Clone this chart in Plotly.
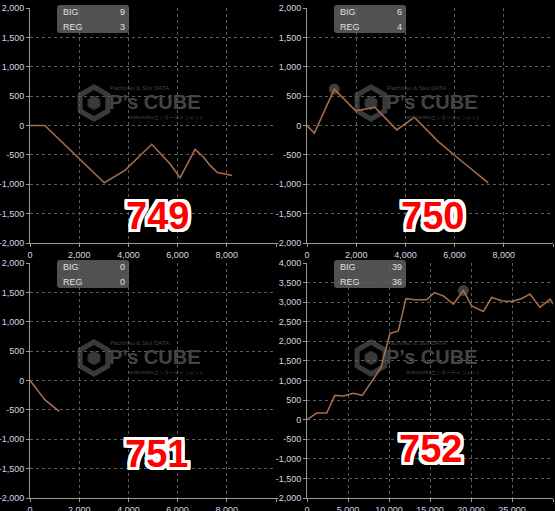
import math
import plotly.graph_objects as go

W, H = 555, 511

# ---------------- data ----------------
names = ["749", "750", "751", "752"]
big_counts = [9, 6, 0, 39]
reg_counts = [3, 4, 0, 36]

x749 = [0, 600, 3020, 3860, 4950, 5690, 6100, 6710, 7050, 7320, 7620, 8220]
y749 = [0, 0, -975, -765, -320, -650, -890, -405, -535, -680, -800, -850]

x750 = [0, 300, 1110, 1980, 2760, 3650, 4360, 5340, 6350, 7370]
y750 = [0, -130, 620, 250, 310, -75, 140, -275, -630, -975]

x751 = [0, 610, 1190]
y751 = [0, -330, -525]

x752 = [0, 1180, 2400, 3400, 4430, 5650, 6750, 7890, 9020, 10120, 11140, 12070,
        13170, 14590, 15530, 16630, 17850, 19070, 20080, 21500, 22520, 23740,
        24960, 26180, 27200, 28410, 29630, 30120]
y752 = [0, 170, 170, 620, 605, 675, 620, 985, 1325, 2200, 2265, 3090,
        3060, 3060, 3245, 3160, 2950, 3300, 2905, 2760, 3120, 3035,
        3015, 3095, 3205, 2865, 3075, 2930]

xs = [x749, x750, x751, x752]
ys = [y749, y750, y751, y752]

x_ticks_small = [0, 2000, 4000, 6000, 8000, 10000]
x_ticks_big = [0, 5000, 10000, 15000, 20000, 25000, 30000]
y_ticks_std = list(range(-2000, 2001, 500))
y_ticks_big = list(range(-2000, 4001, 500))

# ---------------- layout geometry (pixels) ----------------
panels = [
    (30, 276, 8, 243),
    (307, 553, 8, 243),
    (30, 276, 263, 498),
    (307, 553, 263, 498),
]
xranges = [[0, 10000], [0, 10000], [0, 10000], [0, 30000]]
yranges = [[-2000, 2000], [-2000, 2000], [-2000, 2000], [-2000, 4000]]
xtickv = [x_ticks_small, x_ticks_small, x_ticks_small, x_ticks_big]
ytickv = [y_ticks_std, y_ticks_std, y_ticks_std, y_ticks_big]


def fx(px):
    return px / W


def fy(py):
    return 1 - py / H


def fmt(v):
    return f"{v:,}"


LINE_COLOR = "#a46d4a"
GRID = "#5c5c5c"
AXIS = "#9a9a9a"
TICKFONT = dict(family="Liberation Sans", size=9, color="#d6d6e2")

fig = go.Figure()
layout = dict(
    width=W, height=H,
    margin=dict(l=0, r=0, t=0, b=0, autoexpand=False),
    paper_bgcolor="black", plot_bgcolor="black",
    showlegend=False,
)

shapes = []
annotations = []

for i in range(4):
    sfx = "" if i == 0 else str(i + 1)
    xa, ya = "x" + sfx, "y" + sfx
    x0, x1, yt, yb = panels[i]
    xt = xtickv[i]
    yt_v = ytickv[i]
    layout["xaxis" + sfx] = dict(
        domain=[fx(x0), fx(x1)], anchor=ya, range=xranges[i],
        tickmode="array", tickvals=xt,
        ticktext=[fmt(v) for v in xt[:-1]] + [""],
        showgrid=True, gridcolor=GRID, griddash="dot", gridwidth=1,
        zeroline=False, showline=True, linecolor=AXIS, linewidth=1,
        ticks="outside", ticklen=3, tickcolor=AXIS, tickfont=TICKFONT,
        fixedrange=True, automargin=False,
    )
    layout["yaxis" + sfx] = dict(
        domain=[fy(yb), fy(yt)], anchor=xa, range=yranges[i],
        tickmode="array", tickvals=yt_v, ticktext=[fmt(v) for v in yt_v],
        showgrid=True, gridcolor=GRID, griddash="dot", gridwidth=1,
        zeroline=False, showline=True, linecolor=AXIS, linewidth=1,
        ticks="outside", ticklen=3, tickcolor=AXIS, tickfont=TICKFONT,
        fixedrange=True, automargin=False,
    )

    if i in (1, 3):
        k = max(range(len(ys[i])), key=lambda j: ys[i][j])
        fig.add_trace(go.Scatter(
            x=[xs[i][k]], y=[ys[i][k]], xaxis=xa, yaxis=ya, mode="markers",
            marker=dict(size=11, color="rgba(70,70,70,0.9)"),
            hoverinfo="skip"))

    fig.add_trace(go.Scatter(
        x=xs[i], y=ys[i], xaxis=xa, yaxis=ya, mode="lines",
        line=dict(color=LINE_COLOR, width=1.6), hoverinfo="skip"))

    # ---- watermark ----
    cx = x0 + 64
    cy = yt + 95
    r = 16
    pts = []
    for a in range(6):
        ang = math.radians(90 + 60 * a)
        pts.append((cx + r * math.cos(ang), cy - r * math.sin(ang)))
    path = "M " + " L ".join(f"{fx(px):.5f},{fy(py):.5f}" for px, py in pts) + " Z"
    shapes.append(dict(type="path", xref="paper", yref="paper", path=path,
                       line=dict(color="#3a3a3a", width=5), layer="below"))
    r2 = 7
    pts2 = []
    for a in range(6):
        ang = math.radians(90 + 60 * a)
        pts2.append((cx + r2 * math.cos(ang), cy - r2 * math.sin(ang)))
    path2 = "M " + " L ".join(f"{fx(px):.5f},{fy(py):.5f}" for px, py in pts2) + " Z"
    shapes.append(dict(type="path", xref="paper", yref="paper", path=path2,
                       fillcolor="#3a3a3a", line=dict(color="#2a2a2a", width=1),
                       layer="below"))
    annotations.append(dict(
        x=fx(cx + 61), y=fy(cy - 1), xref="paper", yref="paper", showarrow=False,
        text="<b>P’s CUBE</b>", xanchor="center", yanchor="middle",
        font=dict(family="Liberation Sans", size=20, color="#444444")))
    annotations.append(dict(
        x=fx(cx + 45), y=fy(cy - 15), xref="paper", yref="paper", showarrow=False,
        text="Pachinko & Slot DATA", xanchor="center", yanchor="middle",
        font=dict(family="Liberation Sans", size=6, color="#444444")))
    annotations.append(dict(
        x=fx(cx + 72), y=fy(cy + 14), xref="paper", yref="paper", showarrow=False,
        text="wakuwakuエンターテインメント", xanchor="center", yanchor="middle",
        font=dict(family="Noto Sans CJK JP", size=5, color="#444444")))

    # ---- BIG / REG box ----
    bx0, bx1 = x0 + 27, x0 + 99
    by0, by1 = yt - 3, yt + 25
    rr = 3
    rpath = (f"M {fx(bx0 + rr)},{fy(by0)} L {fx(bx1 - rr)},{fy(by0)} "
             f"Q {fx(bx1)},{fy(by0)} {fx(bx1)},{fy(by0 + rr)} "
             f"L {fx(bx1)},{fy(by1 - rr)} Q {fx(bx1)},{fy(by1)} {fx(bx1 - rr)},{fy(by1)} "
             f"L {fx(bx0 + rr)},{fy(by1)} Q {fx(bx0)},{fy(by1)} {fx(bx0)},{fy(by1 - rr)} "
             f"L {fx(bx0)},{fy(by0 + rr)} Q {fx(bx0)},{fy(by0)} {fx(bx0 + rr)},{fy(by0)} Z")
    shapes.append(dict(type="path", xref="paper", yref="paper", path=rpath,
                       fillcolor="rgba(95,95,95,0.85)", line=dict(width=0),
                       layer="above"))
    for lab, val, dy in (("BIG", big_counts[i], 4), ("REG", reg_counts[i], 19)):
        annotations.append(dict(
            x=fx(bx0 + 4), y=fy(yt + dy), xref="paper", yref="paper",
            showarrow=False, text=lab, xanchor="left", yanchor="middle",
            font=dict(family="Liberation Sans", size=9, color="#e0e0e0")))
        annotations.append(dict(
            x=fx(bx1 - 2), y=fy(yt + dy), xref="paper", yref="paper",
            showarrow=False, text=str(val), xanchor="right", yanchor="middle",
            font=dict(family="Liberation Sans", size=9, color="#e0e0e0")))

# big red numbers
num_pos = [(157, 216), (432, 216), (156, 454), (430, 449)]
shadow = ", ".join(f"{dx}px {dy}px 0 #ffffff" for dx in (-3, -2, 0, 2, 3)
                   for dy in (-3, -2, 0, 2, 3) if not (dx == 0 and dy == 0))
for name, (px, py) in zip(names, num_pos):
    annotations.append(dict(
        x=fx(px), y=fy(py), xref="paper", yref="paper", showarrow=False,
        text=f"<b>{name}</b>", xanchor="center", yanchor="middle",
        font=dict(family="Liberation Sans", size=38, color="#ff0000",
                  shadow=shadow)))

layout["shapes"] = shapes
layout["annotations"] = annotations
fig.update_layout(**layout)
fig.write_html(
    "out.html",
    config={"displayModeBar": False},
    post_script="document.body.style.margin='0';document.body.style.background='black';",
)
